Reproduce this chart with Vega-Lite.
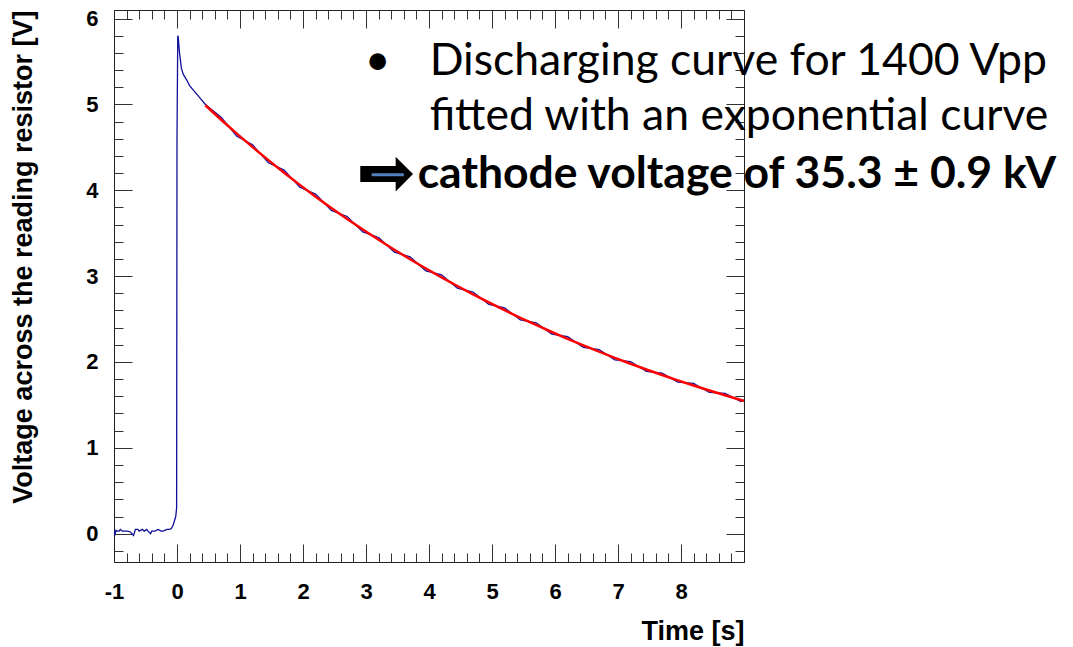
{
  "$schema": "https://vega.github.io/schema/vega-lite/v6.json",
  "width": 630,
  "height": 552,
  "autosize": "none",
  "padding": {"left": 114, "top": 10, "right": 329, "bottom": 85},
  "background": "white",
  "config": {
    "view": {"stroke": null},
    "axis": {
      "grid": false,
      "labelFont": "Liberation Sans",
      "labelFontWeight": "bold",
      "labelFontSize": 22,
      "labelColor": "black",
      "titleFont": "Liberation Sans",
      "titleFontWeight": "bold",
      "titleFontSize": 27,
      "titleColor": "black",
      "domainColor": "#222222",
      "tickColor": "#333333",
      "labelFlush": false,
      "labelOverlap": false
    }
  },
  "datasets": {
    "blue": [
      {"t": -1.0, "v": 0.04}, {"t": -0.985, "v": -0.02}, {"t": -0.97, "v": 0.04}, {"t": -0.95, "v": 0.03},
      {"t": -0.92, "v": 0.03}, {"t": -0.9, "v": 0.05}, {"t": -0.87, "v": 0.03}, {"t": -0.82, "v": 0.03},
      {"t": -0.78, "v": 0.03}, {"t": -0.74, "v": 0.02}, {"t": -0.69, "v": -0.02}, {"t": -0.66, "v": 0.05},
      {"t": -0.62, "v": 0.05}, {"t": -0.6, "v": 0.03}, {"t": -0.55, "v": 0.05}, {"t": -0.52, "v": 0.03},
      {"t": -0.48, "v": 0.05}, {"t": -0.46, "v": 0.03}, {"t": -0.42, "v": 0.0}, {"t": -0.4, "v": 0.03},
      {"t": -0.35, "v": 0.03}, {"t": -0.3, "v": 0.05}, {"t": -0.25, "v": 0.03}, {"t": -0.22, "v": 0.03},
      {"t": -0.16, "v": 0.05}, {"t": -0.12, "v": 0.05}, {"t": -0.09, "v": 0.06}, {"t": -0.06, "v": 0.1},
      {"t": -0.04, "v": 0.15}, {"t": -0.02, "v": 0.2}, {"t": -0.006, "v": 0.3}, {"t": 0.0, "v": 4.6},
      {"t": 0.012, "v": 5.8}, {"t": 0.02, "v": 5.78}, {"t": 0.04, "v": 5.6}, {"t": 0.07, "v": 5.42},
      {"t": 0.1, "v": 5.35}, {"t": 0.15, "v": 5.29}, {"t": 0.2, "v": 5.22}, {"t": 0.28, "v": 5.15},
      {"t": 0.36, "v": 5.08}, {"t": 0.45, "v": 5.0}, {"t": 0.7, "v": 4.85}, {"t": 0.95, "v": 4.63},
      {"t": 1.2, "v": 4.53}, {"t": 1.45, "v": 4.32}, {"t": 1.7, "v": 4.235}, {"t": 1.95, "v": 4.035},
      {"t": 2.2, "v": 3.955}, {"t": 2.45, "v": 3.765}, {"t": 2.7, "v": 3.695}, {"t": 2.95, "v": 3.515},
      {"t": 3.2, "v": 3.45}, {"t": 3.45, "v": 3.28}, {"t": 3.7, "v": 3.225}, {"t": 3.95, "v": 3.06},
      {"t": 4.2, "v": 3.015}, {"t": 4.45, "v": 2.86}, {"t": 4.7, "v": 2.815}, {"t": 4.95, "v": 2.67},
      {"t": 5.2, "v": 2.63}, {"t": 5.45, "v": 2.49}, {"t": 5.7, "v": 2.455}, {"t": 5.95, "v": 2.325},
      {"t": 6.2, "v": 2.295}, {"t": 6.45, "v": 2.17}, {"t": 6.7, "v": 2.145}, {"t": 6.95, "v": 2.025},
      {"t": 7.2, "v": 2.005}, {"t": 7.45, "v": 1.89}, {"t": 7.7, "v": 1.87}, {"t": 7.95, "v": 1.765},
      {"t": 8.2, "v": 1.75}, {"t": 8.45, "v": 1.645}, {"t": 8.7, "v": 1.635}, {"t": 8.95, "v": 1.54},
      {"t": 9.0, "v": 1.56}
    ],
    "red": [
      {"t": 0.45, "v": 4.99}, {"t": 0.7, "v": 4.822}, {"t": 0.95, "v": 4.66}, {"t": 1.2, "v": 4.503},
      {"t": 1.45, "v": 4.351}, {"t": 1.7, "v": 4.205}, {"t": 1.95, "v": 4.063}, {"t": 2.2, "v": 3.926},
      {"t": 2.45, "v": 3.794}, {"t": 2.7, "v": 3.666}, {"t": 2.95, "v": 3.543}, {"t": 3.2, "v": 3.424},
      {"t": 3.45, "v": 3.308}, {"t": 3.7, "v": 3.197}, {"t": 3.95, "v": 3.089}, {"t": 4.2, "v": 2.985},
      {"t": 4.45, "v": 2.885}, {"t": 4.7, "v": 2.788}, {"t": 4.95, "v": 2.694}, {"t": 5.2, "v": 2.603},
      {"t": 5.45, "v": 2.515}, {"t": 5.7, "v": 2.431}, {"t": 5.95, "v": 2.349}, {"t": 6.2, "v": 2.27},
      {"t": 6.45, "v": 2.193}, {"t": 6.7, "v": 2.12}, {"t": 6.95, "v": 2.048}, {"t": 7.2, "v": 1.979},
      {"t": 7.45, "v": 1.912}, {"t": 7.7, "v": 1.848}, {"t": 7.95, "v": 1.786}, {"t": 8.2, "v": 1.726},
      {"t": 8.45, "v": 1.668}, {"t": 8.7, "v": 1.612}, {"t": 8.95, "v": 1.557}, {"t": 9.0, "v": 1.546}
    ],
    "note": [
      {"x": 2.98, "y": 5.5, "s": "•"},
      {"x": 4.01, "y": 5.5, "s": "Discharging curve for 1400 Vpp"},
      {"x": 4.01, "y": 4.85, "s": "fitted with an exponential curve"}
    ],
    "bold": [
      {"x": 3.82, "y": 4.18, "s": "cathode voltage of 35.3 ± 0.9 kV"}
    ],
    "arrow": [
      {"x": 3.31, "y": 4.18, "s": "➡"}
    ],
    "stripe": [
      {"x": 3.09, "x2": 3.6, "y": 4.18}
    ]
  },
  "layer": [
    {
      "data": {"name": "blue"},
      "mark": {"type": "line", "color": "#10109a", "strokeWidth": 1.3, "clip": true},
      "encoding": {
        "x": {
          "field": "t", "type": "quantitative",
          "scale": {"domain": [-1, 9], "nice": false, "zero": false},
          "axis": {
            "orient": "bottom",
            "values": [-1,0,1,2,3,4,5,6,7,8,9],
            "labelExpr": "datum.value < 9 ? '' + datum.value : ''",
            "tickSize": -18,
            "labelPadding": 37,
            "title": "Time [s]",
            "titleAnchor": "end",
            "titlePadding": 16
          }
        },
        "y": {
          "field": "v", "type": "quantitative",
          "scale": {"domain": [-0.33, 6.1], "nice": false, "zero": false},
          "axis": {
            "orient": "left",
            "values": [0,1,2,3,4,5,6],
            "labelExpr": "'' + datum.value",
            "tickSize": -18,
            "labelPadding": 34,
            "title": "Voltage across the reading resistor [V]",
            "titleAnchor": "end",
            "titlePadding": 48
          }
        }
      }
    },
    {
      "data": {"name": "red"},
      "mark": {"type": "line", "color": "#ff0000", "strokeWidth": 2.5, "clip": true},
      "encoding": {
        "x": {
          "field": "t", "type": "quantitative",
          "axis": {
            "orient": "top",
            "values": [-1,0,1,2,3,4,5,6,7,8,9],
            "labels": false,
            "title": null,
            "tickSize": -18
          }
        },
        "y": {
          "field": "v", "type": "quantitative",
          "axis": {
            "orient": "right",
            "values": [0,1,2,3,4,5,6],
            "labels": false,
            "title": null,
            "tickSize": -18
          }
        }
      }
    },
    {
      "data": {"name": "note"},
      "mark": {"type": "text", "font": "Lato", "fontSize": 44.5, "align": "left", "baseline": "middle", "color": "black"},
      "encoding": {
        "x": {
          "field": "x", "type": "quantitative",
          "axis": {
            "orient": "bottom",
            "values": [-0.8,-0.6,-0.4,-0.2,0.2,0.4,0.6,0.8,1.2,1.4,1.6,1.8,2.2,2.4,2.6,2.8,3.2,3.4,3.6,3.8,4.2,4.4,4.6,4.8,5.2,5.4,5.6,5.8,6.2,6.4,6.6,6.8,7.2,7.4,7.6,7.8,8.2,8.4,8.6,8.8],
            "labels": false, "domain": false, "title": null, "tickSize": -9
          }
        },
        "y": {
          "field": "y", "type": "quantitative",
          "axis": {
            "orient": "left",
            "values": [-0.2,0.2,0.4,0.6,0.8,1.2,1.4,1.6,1.8,2.2,2.4,2.6,2.8,3.2,3.4,3.6,3.8,4.2,4.4,4.6,4.8,5.2,5.4,5.6,5.8],
            "labels": false, "domain": false, "title": null, "tickSize": -9
          }
        },
        "text": {"field": "s"}
      }
    },
    {
      "data": {"name": "bold"},
      "mark": {"type": "text", "font": "Lato", "fontWeight": "bold", "fontSize": 44.5, "align": "left", "baseline": "middle", "color": "black"},
      "encoding": {
        "x": {
          "field": "x", "type": "quantitative",
          "axis": {
            "orient": "top",
            "values": [-0.8,-0.6,-0.4,-0.2,0.2,0.4,0.6,0.8,1.2,1.4,1.6,1.8,2.2,2.4,2.6,2.8,3.2,3.4,3.6,3.8,4.2,4.4,4.6,4.8,5.2,5.4,5.6,5.8,6.2,6.4,6.6,6.8,7.2,7.4,7.6,7.8,8.2,8.4,8.6,8.8],
            "labels": false, "domain": false, "title": null, "tickSize": -9
          }
        },
        "y": {
          "field": "y", "type": "quantitative",
          "axis": {
            "orient": "right",
            "values": [-0.2,0.2,0.4,0.6,0.8,1.2,1.4,1.6,1.8,2.2,2.4,2.6,2.8,3.2,3.4,3.6,3.8,4.2,4.4,4.6,4.8,5.2,5.4,5.6,5.8],
            "labels": false, "domain": false, "title": null, "tickSize": -9
          }
        },
        "text": {"field": "s"}
      }
    },
    {
      "data": {"name": "arrow"},
      "mark": {"type": "text", "font": "DejaVu Sans", "fontSize": 70, "align": "center", "baseline": "middle", "color": "black"},
      "encoding": {
        "x": {"field": "x", "type": "quantitative", "axis": null},
        "y": {"field": "y", "type": "quantitative", "axis": null},
        "text": {"field": "s"}
      }
    },
    {
      "data": {"name": "stripe"},
      "mark": {"type": "rule", "color": "#4f81bd", "strokeWidth": 3},
      "encoding": {
        "x": {"field": "x", "type": "quantitative", "axis": null},
        "x2": {"field": "x2"},
        "y": {"field": "y", "type": "quantitative", "axis": null}
      }
    }
  ],
  "resolve": {"axis": {"x": "independent", "y": "independent"}}
}
